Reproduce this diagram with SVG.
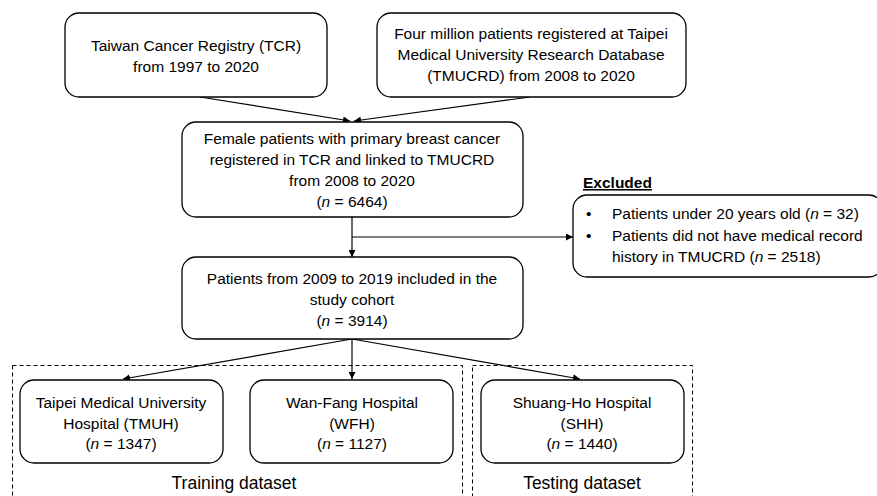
<svg xmlns="http://www.w3.org/2000/svg" width="877" height="496" viewBox="0 0 877 496">
<defs>
<marker id="ah" viewBox="0 0 10 10" refX="10" refY="5" markerWidth="7" markerHeight="7" markerUnits="userSpaceOnUse" orient="auto">
<path d="M0,0 L10,5 L0,10 z" fill="#000"/>
</marker>
</defs>
<style>
.box{fill:#fff;stroke:#000;stroke-width:1.3}
.t{font-family:"Liberation Sans",Arial,sans-serif;font-size:15.5px;fill:#000;text-anchor:middle}
.l{font-family:"Liberation Sans",Arial,sans-serif;font-size:15.5px;fill:#000}
.lab{font-family:"Liberation Sans",Arial,sans-serif;font-size:17.5px;fill:#000;text-anchor:middle}
.c{fill:none;stroke:#000;stroke-width:1.2}
.dash{fill:none;stroke:#000;stroke-width:1;stroke-dasharray:4,3}
</style>
<rect x="0" y="0" width="877" height="496" fill="#fff"/>
<g id="groups">
<rect class="dash" x="12.5" y="365.5" width="450" height="140"/>
<rect class="dash" x="472.5" y="365.5" width="220" height="140"/>
</g>
<g id="connectors">
<line class="c" x1="200" y1="97" x2="350" y2="121" marker-end="url(#ah)"/>
<line class="c" x1="530" y1="97" x2="354" y2="121" marker-end="url(#ah)"/>
<line class="c" x1="352" y1="217" x2="352" y2="257" marker-end="url(#ah)"/>
<line class="c" x1="352" y1="237" x2="573" y2="237" marker-end="url(#ah)"/>
<line class="c" x1="352" y1="339" x2="123" y2="379" marker-end="url(#ah)"/>
<line class="c" x1="352" y1="339" x2="352" y2="379" marker-end="url(#ah)"/>
<line class="c" x1="352" y1="339" x2="580" y2="379" marker-end="url(#ah)"/>
</g>
<g id="tcr">
<rect class="box" x="65" y="13" width="262" height="84" rx="14"/>
<text class="t" x="196" y="51">Taiwan Cancer Registry (TCR)</text>
<text class="t" x="196" y="72">from 1997 to 2020</text>
</g>
<g id="tmucrd">
<rect class="box" x="377" y="13" width="309" height="84" rx="14"/>
<text class="t" x="531" y="39">Four million patients registered at Taipei</text>
<text class="t" x="531" y="60">Medical University Research Database</text>
<text class="t" x="531" y="81">(TMUCRD) from 2008 to 2020</text>
</g>
<g id="female">
<rect class="box" x="182" y="122" width="341" height="95" rx="14"/>
<text class="t" x="352" y="144">Female patients with primary breast cancer</text>
<text class="t" x="352" y="165">registered in TCR and linked to TMUCRD</text>
<text class="t" x="352" y="186">from 2008 to 2020</text>
<text class="t" x="352" y="207">(<tspan font-style="italic">n</tspan> = 6464)</text>
</g>
<g id="excluded">
<text class="l" x="583" y="188" font-weight="bold" text-decoration="underline">Excluded</text>
<rect class="box" x="573" y="195" width="310" height="82" rx="14"/>
<text class="l" x="586" y="219">•</text>
<text class="l" x="612" y="219">Patients under 20 years old (<tspan font-style="italic">n</tspan> = 32)</text>
<text class="l" x="586" y="241">•</text>
<text class="l" x="612" y="241">Patients did not have medical record</text>
<text class="l" x="612" y="262">history in TMUCRD (<tspan font-style="italic">n</tspan> = 2518)</text>
</g>
<g id="cohort">
<rect class="box" x="182" y="257" width="341" height="82" rx="14"/>
<text class="t" x="352" y="284">Patients from 2009 to 2019 included in the</text>
<text class="t" x="352" y="305">study cohort</text>
<text class="t" x="352" y="326">(<tspan font-style="italic">n</tspan> = 3914)</text>
</g>
<g id="tmuh">
<rect class="box" x="20" y="380" width="203" height="83" rx="14"/>
<text class="t" x="121" y="408">Taipei Medical University</text>
<text class="t" x="121" y="429">Hospital (TMUH)</text>
<text class="t" x="121" y="449">(<tspan font-style="italic">n</tspan> = 1347)</text>
</g>
<g id="wfh">
<rect class="box" x="250" y="380" width="203" height="83" rx="14"/>
<text class="t" x="352" y="408">Wan-Fang Hospital</text>
<text class="t" x="352" y="429">(WFH)</text>
<text class="t" x="352" y="449">(<tspan font-style="italic">n</tspan> = 1127)</text>
</g>
<g id="shh">
<rect class="box" x="481" y="380" width="203" height="83" rx="14"/>
<text class="t" x="582" y="408">Shuang-Ho Hospital</text>
<text class="t" x="582" y="429">(SHH)</text>
<text class="t" x="582" y="449">(<tspan font-style="italic">n</tspan> = 1440)</text>
</g>
<g id="labels">
<text class="lab" x="234" y="489">Training dataset</text>
<text class="lab" x="582" y="489">Testing dataset</text>
</g>
</svg>
